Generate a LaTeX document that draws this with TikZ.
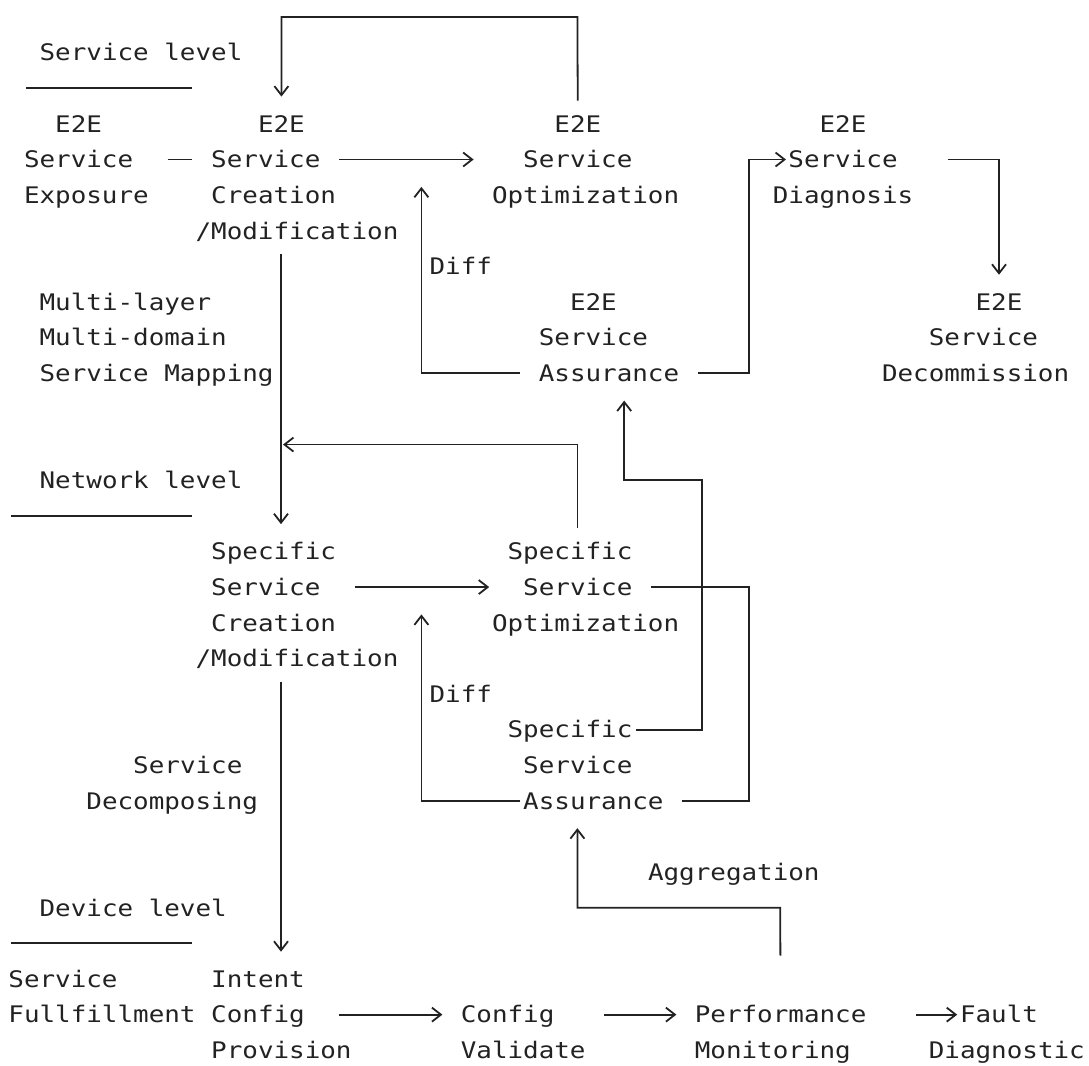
\documentclass[tikz,border=0pt]{standalone}
\usepackage{fontspec}
\newfontfamily\asciifont[FakeStretch=1.1365]{DejaVu Sans Mono}
\usetikzlibrary{arrows.meta}
\definecolor{ink}{HTML}{222222}

\begin{document}
\begin{tikzpicture}[x=7.8pt, y=-17.815pt,
  lbl/.style={anchor=base west, inner sep=0pt, text height=8.3pt, text depth=0pt,
    xshift=-3.9pt, yshift=-4.15pt, text=ink,
    font=\asciifont\fontsize{11.4pt}{14pt}\selectfont},
  link/.style={draw=ink, line width=0.9pt},
  arr/.style={link, -{Straight Barb[length=4.5pt, width=7pt]}}]
  \useasboundingbox (-1.013,0.523) rectangle (68.795,30.441);

  % Level labels and rules
  \node[lbl] (lvS) at (2,2) {Service level};
  \node[lbl] (lvN) at (2,14) {Network level};
  \node[lbl] (lvD) at (2,26) {Device level};
  \draw[link] (0.68,3) -- (11.32,3);
  \draw[link] (-0.32,15) -- (11.32,15);
  \draw[link] (-0.32,27) -- (11.32,27);

  % Service level
  \node[lbl] (expA) at (3,4) {E2E};
  \node[lbl] (expB) at (1,5) {Service};
  \node[lbl] (expC) at (1,6) {Exposure};
  \node[lbl] (crtA) at (16,4) {E2E};
  \node[lbl] (crtB) at (13,5) {Service};
  \node[lbl] (crtC) at (13,6) {Creation};
  \node[lbl] (crtD) at (12,7) {/Modification};
  \node[lbl] (optA) at (35,4) {E2E};
  \node[lbl] (optB) at (33,5) {Service};
  \node[lbl] (optC) at (31,6) {Optimization};
  \node[lbl] (diaA) at (52,4) {E2E};
  \node[lbl] (diaB) at (50,5) {Service};
  \node[lbl] (diaC) at (49,6) {Diagnosis};
  \node[lbl] (diffA) at (27,8) {Diff};
  \node[lbl] (mapA) at (2,9) {Multi-layer};
  \node[lbl] (mapB) at (2,10) {Multi-domain};
  \node[lbl] (mapC) at (2,11) {Service Mapping};
  \node[lbl] (assA) at (36,9) {E2E};
  \node[lbl] (assB) at (34,10) {Service};
  \node[lbl] (assC) at (34,11) {Assurance};
  \node[lbl] (decA) at (62,9) {E2E};
  \node[lbl] (decB) at (59,10) {Service};
  \node[lbl] (decC) at (56,11) {Decommission};

  % Network level
  \node[lbl] (scrA) at (13,16) {Specific};
  \node[lbl] (scrB) at (13,17) {Service};
  \node[lbl] (scrC) at (13,18) {Creation};
  \node[lbl] (scrD) at (12,19) {/Modification};
  \node[lbl] (sopA) at (32,16) {Specific};
  \node[lbl] (sopB) at (33,17) {Service};
  \node[lbl] (sopC) at (31,18) {Optimization};
  \node[lbl] (diffB) at (27,20) {Diff};
  \node[lbl] (sasA) at (32,21) {Specific};
  \node[lbl] (sasB) at (33,22) {Service};
  \node[lbl] (sasC) at (33,23) {Assurance};
  \node[lbl] (decoA) at (8,22) {Service};
  \node[lbl] (decoB) at (5,23) {Decomposing};
  \node[lbl] (aggr) at (41,25) {Aggregation};

  % Device level
  \node[lbl] (fulA) at (0,28) {Service};
  \node[lbl] (fulB) at (0,29) {Fullfillment};
  \node[lbl] (cfgA) at (13,28) {Intent};
  \node[lbl] (cfgB) at (13,29) {Config};
  \node[lbl] (cfgC) at (13,30) {Provision};
  \node[lbl] (valA) at (29,29) {Config};
  \node[lbl] (valB) at (29,30) {Validate};
  \node[lbl] (monA) at (44,29) {Performance};
  \node[lbl] (monB) at (44,30) {Monitoring};
  \node[lbl] (fltA) at (61,29) {Fault};
  \node[lbl] (fltB) at (59,30) {Diagnostic};

  % Bends and free ends
  \coordinate (spine) at (17,0);
  \coordinate (topR) at (36,1);
  \coordinate (difT) at (26,5.767);
  \coordinate (asR) at (47,11);
  \coordinate (fbR) at (36,13);
  \coordinate (jA) at (44,17);
  \coordinate (jB) at (47,17);
  \coordinate (jC) at (47,23);
  \coordinate (jD) at (44,21);
  \coordinate (jE) at (44,14);
  \coordinate (jF) at (39,14);
  \coordinate (difB) at (26,17.767);
  \coordinate (agR) at (49,26);
  \coordinate (agL) at (36,26);

  % Service level connectors
  \draw[arr, shorten <=7.3pt, shorten >=9.3pt] (optA.north) -- (topR) -| (crtA.north);
  \draw[link, shorten <=17pt, shorten >=9.2pt] (expB.east) -- (crtB.west);
  \draw[arr, shorten <=9.2pt, shorten >=24.6pt] (crtB.east) -- (optB.west);
  \draw[arr, shorten <=9.2pt] (assC.west) -| (difT);
  \draw[arr, shorten <=9.2pt, shorten >=1pt] (assC.east) -- (asR) |- (diaB.west);
  \draw[arr, shorten <=24.8pt, shorten >=9.3pt] (diaB.east) -| (decA.north);
  \draw[arr, shorten <=7.3pt, shorten >=9.3pt] (crtD.south -| spine) -- (scrA.north -| spine);

  % Network level connectors
  \draw[arr, shorten <=7.3pt, shorten >=1pt] (sopA.north -| fbR) -- (fbR) -- (fbR -| spine);
  \draw[arr, shorten <=17pt, shorten >=16.8pt] (scrB.east) -- (sopB.west);
  \draw[link, shorten <=9.2pt, shorten >=9.2pt] (sopB.east) -- (jA) -- (jB) -- (jC) -- (sasC.east);
  \draw[arr, shorten <=1.4pt, shorten >=9.3pt] (sasA.east) -- (jD) -- (jE) -- (jF) -- (assC.south -| jF);
  \draw[arr, shorten <=1.4pt] (sasC.west) -| (difB);
  \draw[arr, shorten <=7.3pt, shorten >=9.3pt] (scrD.south -| spine) -- (cfgA.north -| spine);
  \draw[arr, shorten <=25.2pt, shorten >=9.3pt] (monA.north) -- (agR) -- (agL) -- (sasC.south -| agL);

  % Device level connectors
  \draw[arr, shorten <=17pt, shorten >=9pt] (cfgB.east) -- (valA.west);
  \draw[arr, shorten <=24.8pt, shorten >=9pt] (valA.east) -- (monA.west);
  \draw[arr, shorten <=24.8pt, shorten >=1.2pt] (monA.east) -- (fltA.west);
\end{tikzpicture}
\end{document}
